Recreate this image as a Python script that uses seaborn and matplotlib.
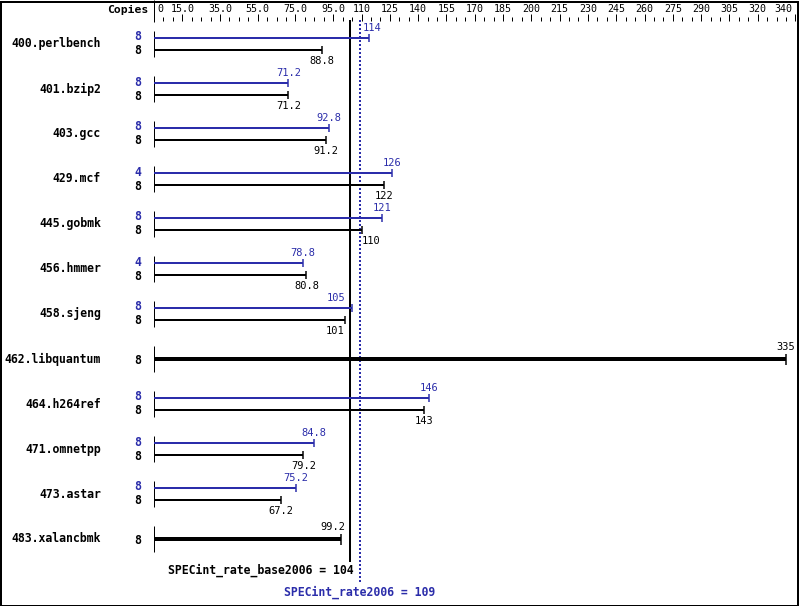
import matplotlib
matplotlib.use("Agg")
import matplotlib.pyplot as plt
import seaborn as sns
from matplotlib.patches import Rectangle

sns.set_style("white")
plt.rcParams['font.family'] = ['DejaVu Sans Mono', 'DejaVu Sans']

# ---------------- data ----------------
benchmarks = ["400.perlbench", "401.bzip2", "403.gcc", "429.mcf", "445.gobmk",
              "456.hmmer", "458.sjeng", "462.libquantum", "464.h264ref",
              "471.omnetpp", "473.astar", "483.xalancbmk"]
peak_values = [114, 71.2, 92.8, 126, 121, 78.8, 105, None, 146, 84.8, 75.2, None]
peak_labels = ["114", "71.2", "92.8", "126", "121", "78.8", "105", None, "146", "84.8", "75.2", None]
base_values = [88.8, 71.2, 91.2, 122, 110, 80.8, 101, 335, 143, 79.2, 67.2, 99.2]
base_labels = ["88.8", "71.2", "91.2", "122", "110", "80.8", "101", "335", "143", "79.2", "67.2", "99.2"]
peak_copies = [8, 8, 8, 4, 8, 4, 8, None, 8, 8, 8, None]
base_copies = [8, 8, 8, 8, 8, 8, 8, 8, 8, 8, 8, 8]
base_score = 104
peak_score = 109
base_score_label = "SPECint_rate_base2006 = 104"
peak_score_label = "SPECint_rate2006 = 109"
tick_values = [0, 15, 35, 55, 75, 95, 110, 125, 140, 155, 170, 185, 200, 215,
               230, 245, 260, 275, 290, 305, 320, 340]
tick_labels = ["0", "15.0", "35.0", "55.0", "75.0", "95.0", "110", "125", "140",
               "155", "170", "185", "200", "215", "230", "245", "260", "275",
               "290", "305", "320", "340"]

# ---------------- layout ----------------
W, H = 799, 606
X0_PX = 154.0          # pixel of value 0
PX_PER_UNIT = 1.8866   # pixels per unit
BLUE = "#2B2DAA"
BLACK = "#000000"
PT = 0.72              # points per pixel at dpi 100

def px2x(p):
    return (p - X0_PX) / PX_PER_UNIT

fig = plt.figure(figsize=(W / 100, H / 100), dpi=100)
ax = fig.add_axes([0, 0, 1, 1])
ax.set_xlim(px2x(0), px2x(W))
ax.set_ylim(H, 0)
ax.axis("off")

# border
fig.patches.append(Rectangle((0.5 / W, 0.5 / H), 1 - 2 / W, 1 - 2 / H,
                             transform=fig.transFigure, fill=False,
                             edgecolor="black", linewidth=2 * PT))

# top scale
ax.vlines(0, 0, 22, color=BLACK, lw=1 * PT)
minor = [v for v in range(5, 341, 5) if v not in tick_values]
ax.vlines(minor, 17, 21, color=BLACK, lw=1 * PT)
ax.vlines(tick_values[1:], 14, 21, color=BLACK, lw=1 * PT)
for v, lab in zip(tick_values, tick_labels):
    if v == 0:
        ax.text(px2x(157), 9, lab, ha="left", va="center",
                fontsize=7.2, color=BLACK)
    elif v == tick_values[-1]:
        ax.text(px2x(792), 9, lab, ha="right", va="center", fontsize=7.2, color=BLACK)
    else:
        ax.text(v, 9, lab, ha="center", va="center", fontsize=7.2, color=BLACK)
ax.text(px2x(148), 10, "Copies", ha="right", va="center", fontsize=8.2,
        fontweight="bold", color=BLACK)

# reference lines
ax.vlines(base_score, 20, 562, color=BLACK, lw=2 * PT)
ax.vlines(peak_score, 20, 584, color=BLUE, lw=2 * PT, linestyles=[(0, (1, 1))])
ax.text(base_score + 3 / PX_PER_UNIT, 570, base_score_label, ha="right",
        va="center", fontsize=8.3, fontweight="bold", color=BLACK)
ax.text(peak_score, 592, peak_score_label, ha="center", va="center",
        fontsize=8.3, fontweight="bold", color=BLUE)

# label offsets (pixels) to keep labels clear of the reference lines
base_label_shift = {"483.xalancbmk": -8, "445.gobmk": 10, "458.sjeng": -9}
peak_label_shift = {"400.perlbench": 3, "458.sjeng": -16}

ROW0, ROW_STEP = 44, 45
for i, name in enumerate(benchmarks):
    yc = ROW0 + ROW_STEP * i
    ax.text(px2x(101), yc, name, ha="right", va="center", fontsize=8.3,
            fontweight="bold", color=BLACK)
    ax.vlines(0, yc - 13, yc + 13, color=BLACK, lw=1 * PT)
    if peak_values[i] is None:
        # single thick bar
        v = base_values[i]
        ax.hlines(yc, 0, v, color=BLACK, lw=4 * PT)
        ax.vlines(v, yc - 5, yc + 6, color=BLACK, lw=1.5 * PT)
        ax.text(px2x(138), yc + 1, str(base_copies[i]), ha="center", va="center",
                fontsize=8.3, fontweight="bold", color=BLACK)
        shift = base_label_shift.get(name, 0)
        ax.text(v + shift / PX_PER_UNIT, yc - 12, base_labels[i], ha="center",
                va="center", fontsize=7.5, color=BLACK)
    else:
        yp, yb = yc - 6, yc + 6
        pv, bv = peak_values[i], base_values[i]
        ax.hlines(yp, 0, pv, color=BLUE, lw=2 * PT)
        ax.vlines(pv, yp - 4, yp + 4, color=BLUE, lw=1.5 * PT)
        ax.hlines(yb, 0, bv, color=BLACK, lw=2 * PT)
        ax.vlines(bv, yb - 4, yb + 4, color=BLACK, lw=1.5 * PT)
        ax.text(px2x(138), yp - 1, str(peak_copies[i]), ha="center", va="center",
                fontsize=8.3, fontweight="bold", color=BLUE)
        ax.text(px2x(138), yb + 1, str(base_copies[i]), ha="center", va="center",
                fontsize=8.3, fontweight="bold", color=BLACK)
        pshift = peak_label_shift.get(name, 0)
        ax.text(pv + pshift / PX_PER_UNIT, yp - 10, peak_labels[i], ha="center",
                va="center", fontsize=7.5, color=BLUE)
        shift = base_label_shift.get(name, 0)
        ax.text(bv + shift / PX_PER_UNIT, yb + 11, base_labels[i], ha="center",
                va="center", fontsize=7.5, color=BLACK)

fig.savefig("out.png", dpi=100, facecolor="white")
